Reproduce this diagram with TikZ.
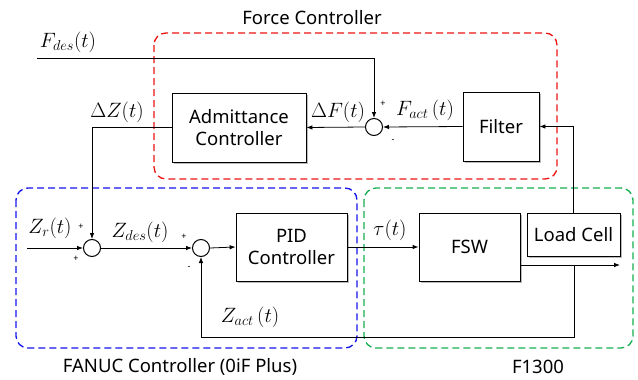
\documentclass[tikz,border=0pt]{standalone}
\usepackage{fontspec}
\setmainfont{Noto Sans}
\usetikzlibrary{arrows.meta,shadows,calc}
\definecolor{fcred}{RGB}{235,20,20}
\definecolor{fcblue}{RGB}{20,20,235}
\definecolor{fcgreen}{RGB}{20,175,80}
\tikzset{
  x=1pt, y=-1pt,
  grp/.style={draw, dashed, dash pattern=on 7pt off 4pt, line width=1.3pt, rounded corners=12pt},
  blk/.style={draw=black, fill=white, line width=0.8pt, align=center, inner sep=0pt,
    font=\fontsize{18.5}{22}\selectfont,
    drop shadow={shadow xshift=1.5pt, shadow yshift=-1.5pt, fill=black!45, opacity=0.6}},
  sumc/.style={draw, circle, line width=1pt, minimum size=17pt, inner sep=0pt},
  sig/.style={line width=0.8pt, -{Latex[length=6pt,width=4.5pt]}},
  lbl/.style={font=\fontsize{20}{24}\selectfont, inner sep=0pt},
  ttl/.style={font=\fontsize{18.5}{22}\selectfont, inner sep=0pt},
  sgn/.style={font=\fontsize{9}{10}\selectfont, inner sep=0pt},
}
\begin{document}
\begin{tikzpicture}
\useasboundingbox (0,0) rectangle (638,380);
% groups
\draw[grp, draw=fcred] (154,33) rectangle (557,179);
\draw[grp, draw=fcblue] (16,188) rectangle (357,348);
\draw[grp, draw=fcgreen] (364,188) rectangle (633,348);
\node[ttl] (tforce) at (312,18) {Force Controller};
\node[ttl] (tfanuc) at (180,367) {FANUC Controller (0iF Plus)};
\node[ttl] (tf1300) at (538,367) {F1300};
% blocks
\node[blk, minimum width=134pt, minimum height=69pt] (adm) at (239,127.5) {Admittance\\Controller};
\node[blk, minimum width=76pt, minimum height=69pt] (filt) at (501,126.5) {Filter};
\node[blk, minimum width=111pt, minimum height=68pt] (pid) at (291.5,247) {PID\\Controller};
\node[blk, minimum width=101pt, minimum height=68pt] (fsw) at (469.5,247) {FSW};
\node[blk, minimum width=93pt, minimum height=43pt] (lc) at (573.5,234.5) {Load Cell};
% summing junctions
\node[sumc] (sumF) at (374,127) {};
\node[sumc] (sum1) at (92,248) {};
\node[sumc] (sum2) at (201,248) {};
% free ends
\coordinate (fdesin) at (37,58);
\coordinate (zrin) at (27,248);
\coordinate (yout) at (620,265);
\coordinate (tap) at (574,265);
\coordinate (fb) at (574,337);
% connectors
\draw[sig] (fdesin) -| (sumF.north);
\draw[sig] (filt.west) -- (sumF.east);
\draw[sig] (sumF.west) -- (adm.east);
\draw[sig] (adm.west) -| (sum1.north);
\draw[sig] (zrin) -- (sum1.west);
\draw[sig] (sum1.east) -- (sum2.west);
\draw[sig] (sum2.east) -- (pid.west);
\draw[sig] (pid.east) -- (fsw.west);
\draw[sig] (fsw.east |- yout) -- (yout);
\draw[sig] (tap) -- (fb) -| (sum2.south);
\draw[sig] (lc.north) |- (filt.east);
% labels
\node[lbl] (lfdes) at (68,42) {$F_{des}(t)$};
\node[lbl] (ldz) at (117,112) {$\Delta Z(t)$};
\node[lbl] (ldf) at (338,112) {$\Delta F(t)$};
\node[lbl] (lfact) at (425,110) {$F_{act}\,(t)$};
\node[lbl] (lzr) at (50,228) {$Z_r(t)$};
\node[lbl] (lzdes) at (140,232) {$Z_{des}(t)$};
\node[lbl] (ltau) at (390,230) {$\tau(t)$};
\node[lbl] (lzact) at (250,317) {$Z_{act}\,(t)$};
% signs
\node[sgn] (s1) at (383,104) {+};
\node[sgn] (s2) at (393,141) {-};
\node[sgn] (s3) at (81,227) {+};
\node[sgn] (s4) at (76,259) {+};
\node[sgn] (s5) at (184,237) {+};
\node[sgn] (s6) at (189,268) {-};
\end{tikzpicture}
\end{document}
